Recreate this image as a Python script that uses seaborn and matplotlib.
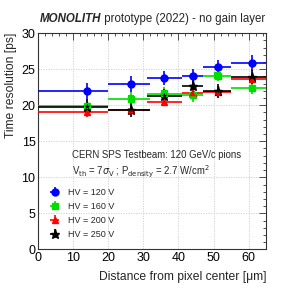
import matplotlib
matplotlib.use("Agg")
import matplotlib.pyplot as plt
import seaborn as sns
import numpy as np
import pandas as pd
from matplotlib.ticker import MultipleLocator

# ---- data ----
x_center = [14.0, 26.4, 36.0, 44.0, 51.2, 61.0]
x_low = [0.0, 20.0, 31.0, 41.0, 47.0, 55.0]
x_high = [20.0, 32.0, 41.0, 47.0, 55.0, 65.0]

hv_labels = ["HV = 120 V", "HV = 160 V", "HV = 200 V", "HV = 250 V"]
res_120 = [22.0, 22.9, 23.8, 24.0, 25.3, 25.8]
res_160 = [19.9, 20.9, 21.6, 21.4, 24.1, 22.4]
res_200 = [19.0, 19.3, 20.5, 21.7, 21.9, 23.6]
res_250 = [19.8, 19.4, 21.3, 22.7, 22.0, 23.9]
err_120 = [1.1, 1.1, 1.0, 1.0, 1.0, 1.1]
err_160 = [0.9, 0.9, 0.9, 0.9, 0.8, 0.9]
err_200 = [0.6, 0.6, 0.6, 0.6, 0.6, 0.7]
err_250 = [1.0, 1.0, 1.0, 1.0, 1.0, 1.0]

series_vals = [res_120, res_160, res_200, res_250]
series_errs = [err_120, err_160, err_200, err_250]
colors = ["#0000ff", "#00dd00", "#ff0000", "#000000"]
markers = ["o", "s", "^", "*"]
msizes = [5, 5, 5, 6.5]

sns.set_theme(style="white")
plt.rcParams["font.family"] = ["Liberation Sans", "DejaVu Sans"]

fig = plt.figure(figsize=(2.99, 2.88), dpi=100)
ax = fig.add_axes([0.128, 0.134, 0.762, 0.751])

rows = []
for lab, vals in zip(hv_labels, series_vals):
    for xc, v in zip(x_center, vals):
        rows.append({"x": xc, "y": v, "hv": lab})
df = pd.DataFrame(rows)

xc = np.array(x_center)
xerr = np.vstack([xc - np.array(x_low), np.array(x_high) - xc])
handles = []
for lab, vals, errs, c, m, ms in zip(hv_labels, series_vals, series_errs, colors, markers, msizes):
    h = ax.errorbar(x_center, vals, xerr=xerr, yerr=errs, fmt=m, color=c,
                    ms=ms, elinewidth=1.2, capsize=0, label=lab, zorder=3)
    handles.append(h)

sns.scatterplot(data=df, x="x", y="y", hue="hv", style="hv",
                palette=dict(zip(hv_labels, colors)),
                markers=dict(zip(hv_labels, markers)),
                s=22, edgecolor="none", legend=False, ax=ax, zorder=4)

ax.set_xlim(0, 65)
ax.set_ylim(0, 30)
ax.xaxis.set_major_locator(MultipleLocator(10))
ax.xaxis.set_minor_locator(MultipleLocator(2))
ax.yaxis.set_major_locator(MultipleLocator(5))
ax.yaxis.set_minor_locator(MultipleLocator(1))
ax.tick_params(which="both", direction="in", top=True, right=True, labelsize=9,
               colors="#333333", labelcolor="black", width=0.6)
ax.tick_params(which="major", length=5, pad=2)
ax.tick_params(which="minor", length=2.5)
ax.grid(True, which="major", linestyle=(0, (1.5, 1.5)), color="#cccccc", linewidth=0.6)
for s in ax.spines.values():
    s.set_color("#333333")
    s.set_linewidth(0.8)

ax.set_xlabel("Distance from pixel center [μm]", fontsize=8.7, loc="right", labelpad=5)
ax.set_ylabel("Time resolution [ps]", fontsize=8.7, loc="top", labelpad=3)

# title: bold italic part + normal part
fig.canvas.draw()
renderer = fig.canvas.get_renderer()
t1 = fig.text(0.0, 0.935, "MONOLITH", fontsize=8.3, fontweight="bold",
              fontstyle="italic", va="center", ha="left")
t2 = fig.text(0.0, 0.935, " prototype (2022) - no gain layer", fontsize=8.3,
              va="center", ha="left")
w1 = t1.get_window_extent(renderer).width
w2 = t2.get_window_extent(renderer).width
W = fig.bbox.width
start = 152.5 - (w1 + w2) / 2
t1.set_x(start / W)
t2.set_x((start + w1) / W)

ax.text(9.5, 13.1, "CERN SPS Testbeam: 120 GeV/c pions", fontsize=6.9, va="center")
ax.text(9.5, 10.8, r"V$_{\rm th}$ = 7$\sigma_{\rm V}$ ; P$_{\rm density}$ = 2.7 W/cm$^{2}$",
        fontsize=6.9, va="center")

leg = ax.legend(handles=handles, labels=hv_labels, loc="lower left",
                bbox_to_anchor=(0.0, 0.02), frameon=False, fontsize=6.5,
                handlelength=2.2, handletextpad=0.4, labelspacing=0.55,
                borderaxespad=0.3)

fig.savefig("out.png", dpi=100, facecolor="white")
